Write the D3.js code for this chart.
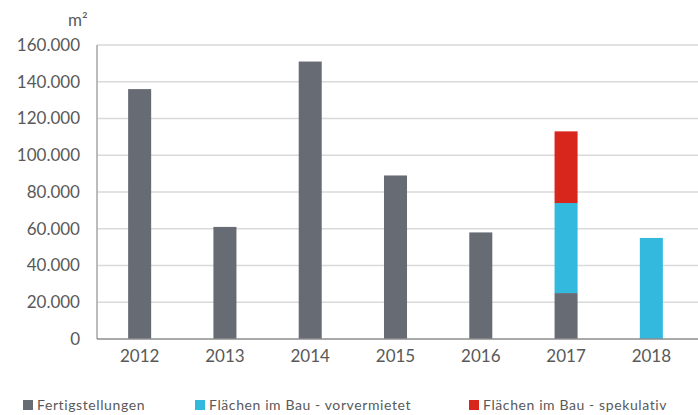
<!DOCTYPE html>
<html>
<head>
<meta charset="utf-8">
<script src="https://cdn.jsdelivr.net/npm/d3@7"></script>
<style>
  body { margin: 0; background: #fff; }
  text { font-family: Lato, "Open Sans", sans-serif; fill: #595959; }
</style>
</head>
<body>
<div id="chart"></div>
<script>
'use strict';

// Data
const years = ['2012', '2013', '2014', '2015', '2016', '2017', '2018'];
const fertig = [136000, 61000, 151000, 89000, 58000, 25000, 0];
const vorvermietet = [0, 0, 0, 0, 0, 49000, 55000];
const spekulativ = [0, 0, 0, 0, 0, 39000, 0];
const yTicks = [0, 20000, 40000, 60000, 80000, 100000, 120000, 140000, 160000];
const seriesNames = ['Fertigstellungen', 'Flächen im Bau - vorvermietet', 'Flächen im Bau - spekulativ'];
const colors = ['#676b73', '#33b8de', '#d9261c'];

// Config svg
const w = 698, h = 415;
const margin = {top: 45, right: 4, bottom: 76, left: 97};

const svg = d3.select('#chart').append('svg')
    .attr('width', w)
    .attr('height', h);

const x = d3.scaleBand()
    .domain(years)
    .range([margin.left, w - margin.right])
    .paddingInner(0.73)
    .paddingOuter(0.365);

const y = d3.scaleLinear()
    .domain([0, 160000])
    .range([h - margin.bottom, margin.top]);

// Stack
const table = years.map((yr, i) => ({year: yr, s0: fertig[i], s1: vorvermietet[i], s2: spekulativ[i]}));
const stacked = d3.stack().keys(['s0', 's1', 's2'])(table);

// Gridlines
svg.append('g')
    .selectAll('line')
    .data(yTicks.filter(d => d > 0))
    .join('line')
    .attr('x1', margin.left)
    .attr('x2', w)
    .attr('y1', d => y(d))
    .attr('y2', d => y(d))
    .attr('stroke', '#d9d9d9')
    .attr('stroke-width', 1.5);

// Bars
svg.append('g')
    .selectAll('g')
    .data(stacked)
    .join('g')
    .attr('fill', (d, i) => colors[i])
    .selectAll('rect')
    .data(d => d.filter(p => p[1] - p[0] > 0))
    .join('rect')
    .attr('x', d => x(d.data.year))
    .attr('width', x.bandwidth())
    .attr('y', d => y(d[1]))
    .attr('height', d => y(d[0]) - y(d[1]));

// Axis lines
svg.append('line')
    .attr('x1', margin.left).attr('x2', margin.left)
    .attr('y1', margin.top).attr('y2', y(0))
    .attr('stroke', '#a6a6a6').attr('stroke-width', 1.5);
svg.append('line')
    .attr('x1', margin.left).attr('x2', w)
    .attr('y1', y(0)).attr('y2', y(0))
    .attr('stroke', '#8c8c8c').attr('stroke-width', 1.5);

// Y labels
const fmt = d3.formatLocale({decimal: ',', thousands: '.', grouping: [3], currency: ['', '€']}).format(',');
svg.append('g')
    .selectAll('text')
    .data(yTicks)
    .join('text')
    .attr('x', 80)
    .attr('y', d => y(d))
    .attr('dy', '0.35em')
    .attr('text-anchor', 'end')
    .style('font-size', '17px')
    .text(d => fmt(d));

svg.append('text')
    .attr('x', 68)
    .attr('y', 26)
    .style('font-size', '17px')
    .text('m²');

// X labels
svg.append('g')
    .selectAll('text')
    .data(years)
    .join('text')
    .attr('x', d => x(d) + x.bandwidth() / 2)
    .attr('y', 362)
    .attr('text-anchor', 'middle')
    .style('font-size', '17px')
    .text(d => d);

// Legend
const legendX = [23, 195, 469];
const legend = svg.append('g')
    .selectAll('g')
    .data(seriesNames)
    .join('g')
    .attr('transform', (d, i) => `translate(${legendX[i]}, 400)`);
legend.append('rect')
    .attr('width', 10).attr('height', 10)
    .attr('fill', (d, i) => colors[i]);
legend.append('text')
    .attr('x', 14)
    .attr('y', 10)
    .style('font-size', '14px')
    .style('letter-spacing', '0.6px')
    .text(d => d);
</script>
</body>
</html>
